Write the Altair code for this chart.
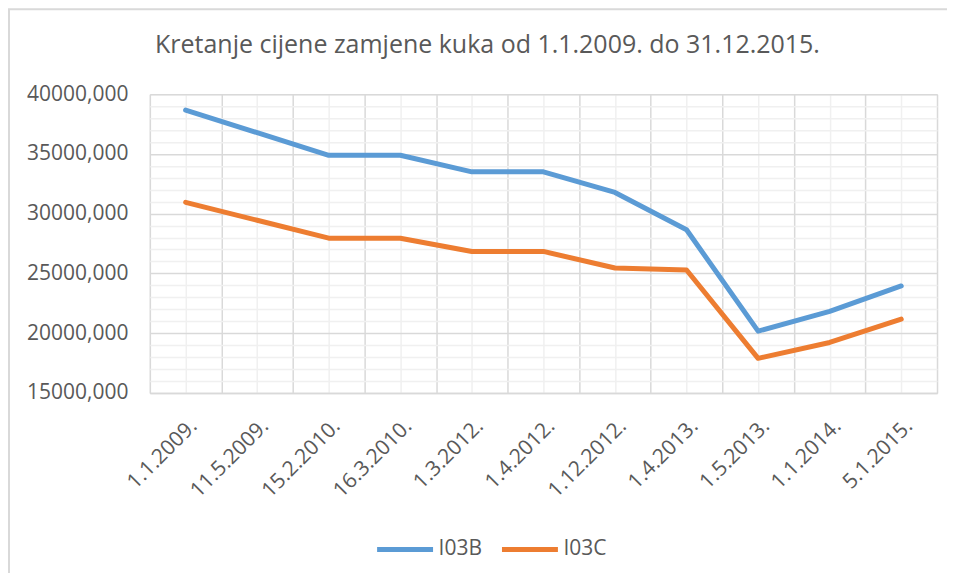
import json
import altair as alt
import pandas as pd

# ---- data ----
dates = ["1.1.2009.", "11.5.2009.", "15.2.2010.", "16.3.2010.", "1.3.2012.",
         "1.4.2012.", "1.12.2012.", "1.4.2013.", "1.5.2013.", "1.1.2014.", "5.1.2015."]
i03b = [38670, 36780, 34890, 34890, 33500, 33500, 31780, 28650, 20170, 21830, 23950]
i03c = [30950, 29450, 27950, 27950, 26840, 26840, 25450, 25290, 17890, 19220, 21170]
series_names = ["I03B", "I03C"]
series_colors = ["#5B9BD5", "#ED7D31"]
title_text = "Kretanje cijene zamjene kuka od 1.1.2009. do 31.12.2015."
y_major = [15000, 20000, 25000, 30000, 35000, 40000]
y_minor = [v for v in range(15000, 40001, 1000) if v % 5000 != 0]

rows = []
for name, vals in zip(series_names, [i03b, i03c]):
    for i, (d, v) in enumerate(zip(dates, vals)):
        rows.append({"idx": i, "date": d, "series": name, "value": v})
df = pd.DataFrame(rows)

n = len(dates)
x_centers = list(range(n))
x_bounds = [i - 0.5 for i in range(n + 1)]

FONT = "Open Sans"
TXT = "#595959"
MAJOR = "#d9d9d9"
MINOR = "#f0f0f0"

xscale = alt.Scale(domain=[-0.5, n - 0.5], nice=False, zero=False)
yscale = alt.Scale(domain=[15000, 40000], nice=False, zero=False)

label_expr = f"{json.dumps(dates)}[datum.value]"

grid2 = alt.Chart(df).mark_point(opacity=0).encode(
    x=alt.X("idx:Q", scale=xscale, title=None,
            axis=alt.Axis(orient="top", values=x_bounds, labels=False, ticks=False,
                          domain=False, grid=True, gridColor=MAJOR, gridWidth=1.5)),
    y=alt.Y("value:Q", scale=yscale, title=None,
            axis=alt.Axis(orient="right", values=y_minor, labels=False, ticks=False,
                          domain=False, grid=True, gridColor=MINOR, gridWidth=1.5)),
)

lines = alt.Chart(df).mark_line(strokeWidth=5, strokeCap="round", strokeJoin="round").encode(
    x=alt.X("idx:Q", scale=xscale, title=None,
            axis=alt.Axis(orient="bottom", values=x_centers, labelExpr=label_expr,
                          labelAngle=-45, labelAlign="right", labelBaseline="top",
                          labelPadding=22, labelFont=FONT, labelFontSize=21,
                          labelColor=TXT, ticks=False, domain=True, domainColor=MAJOR,
                          domainWidth=1.5, grid=True, gridColor=MINOR, gridWidth=1.5,
                          labelOverlap=False)),
    y=alt.Y("value:Q", scale=yscale, title=None,
            axis=alt.Axis(orient="left", values=y_major,
                          labelExpr="replace(format(datum.value, '.3f'), '.', ',')",
                          labelFont=FONT, labelFontSize=21, labelColor=TXT, labelPadding=22,
                          ticks=False, domain=False, grid=True, gridColor=MAJOR, gridWidth=1.5)),
    color=alt.Color("series:N", scale=alt.Scale(domain=series_names, range=series_colors),
                    legend=alt.Legend(title=None, orient="none", direction="horizontal",
                                      legendX=225, legendY=425,
                                      symbolType="stroke", symbolSize=3136,
                                      symbolStrokeWidth=5, labelFont=FONT,
                                      labelFontSize=21, labelColor=TXT, labelOffset=3,
                                      columnPadding=9)),
)

border = alt.Chart(pd.DataFrame({"a": [0]})).mark_rect(
    filled=False, color="#d9d9d9", strokeWidth=2, opacity=1
).encode(x=alt.value(-141), x2=alt.value(830), y=alt.value(-85), y2=alt.value(520))

chart = alt.layer(border, grid2, lines).resolve_axis(
    x="independent", y="independent"
).properties(
    width=788, height=299,
    padding={"left": 142, "top": 86, "right": 10, "bottom": 180},
    autosize=alt.AutoSizeParams(type="none"),
    title=alt.TitleParams(text=title_text, font=FONT, fontSize=25, fontWeight="normal",
                          color=TXT, anchor="middle", frame="group", dx=-56, dy=70,
                          offset=0, baseline="alphabetic"),
).configure_view(stroke=None).configure(background="white")

chart.save("out.html", embed_options={"renderer": "svg", "actions": False})
